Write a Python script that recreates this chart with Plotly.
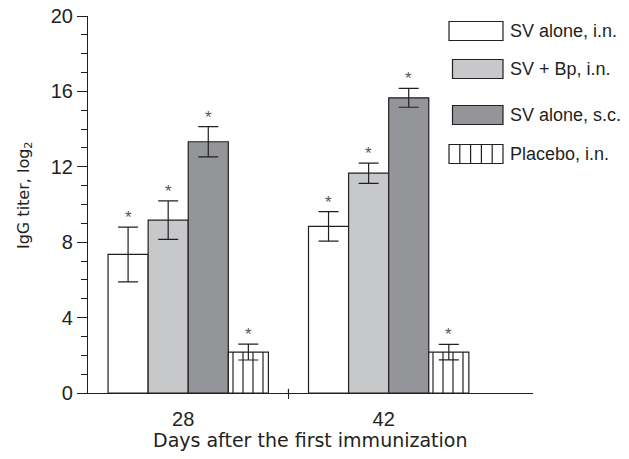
import plotly.graph_objects as go

# ---------------- data ----------------
days = ["28", "42"]
series_names = ["SV alone, i.n.", "SV + Bp, i.n.", "SV alone, s.c.", "Placebo, i.n."]
sv_alone_in = [7.35, 8.84]
sv_alone_in_err = [1.45, 0.78]
sv_bp_in = [9.17, 11.66]
sv_bp_in_err = [1.02, 0.54]
sv_alone_sc = [13.33, 15.66]
sv_alone_sc_err = [0.80, 0.50]
placebo_in = [2.17, 2.17]
placebo_in_err = [0.42, 0.41]
y_ticks = [0, 4, 8, 12, 16, 20]

values = [sv_alone_in, sv_bp_in, sv_alone_sc, placebo_in]
errors = [sv_alone_in_err, sv_bp_in_err, sv_alone_sc_err, placebo_in_err]

# ---------------- styles ----------------
INK = "#231f20"
fills = ["#ffffff", "#c7c8ca", "#939598", "#ffffff"]
patterns = [None, None, None, dict(shape="|", size=10, solidity=0.12,
                                   fgcolor=INK, bgcolor="#ffffff", fillmode="replace")]

W, H = 629, 459
PLOT_L, PLOT_R, PLOT_T, PLOT_B = 88, 533, 16, 393   # plot area in pixels
ML, MT = PLOT_L, PLOT_T
MR, MB = W - PLOT_R, H - PLOT_B
PW, PH = PLOT_R - PLOT_L, PLOT_B - PLOT_T

xpos = list(range(len(days)))
BARGAP = 0.2
n = len(series_names)
bw = (1 - BARGAP) / n

fig = go.Figure()
for j, (name, vals, errs) in enumerate(zip(series_names, values, errors)):
    marker = dict(color=fills[j], line=dict(color=INK, width=1.2))
    if patterns[j]:
        marker["pattern"] = patterns[j]
    fig.add_trace(go.Bar(
        name=name, x=xpos, y=vals, marker=marker, showlegend=False,
        error_y=dict(type="data", array=errs, visible=True,
                     color=INK, thickness=1.2, width=10),
    ))

# asterisks above error bars
for j, (vals, errs) in enumerate(zip(values, errors)):
    for i, (v, e) in enumerate(zip(vals, errs)):
        fig.add_annotation(x=xpos[i] + (j - (n - 1) / 2) * bw, y=v + e,
                           xref="x", yref="y", text="*", showarrow=False,
                           yanchor="bottom", yshift=-2,
                           font=dict(family="Liberation Sans", size=17, color="#555555"))

# custom legend (positions given in pixels)
def px_x(p):
    return (p - PLOT_L) / PW

def px_y(p):
    return (PLOT_B - p) / PH

leg_centers = [31, 69, 115, 154]
box_left = [449, 452.5, 452.5, 449]
box_right = 503
box_h = 19
for j, name in enumerate(series_names):
    cy = leg_centers[j]
    fig.add_shape(type="rect", xref="paper", yref="paper",
                  x0=px_x(box_left[j]), x1=px_x(box_right),
                  y0=px_y(cy + box_h / 2), y1=px_y(cy - box_h / 2),
                  fillcolor=fills[j], line=dict(color=INK, width=1.2))
    if patterns[j]:
        step = (box_right - box_left[j]) / 5
        for k in range(1, 5):
            xx = box_left[j] + k * step
            fig.add_shape(type="line", xref="paper", yref="paper",
                          x0=px_x(xx), x1=px_x(xx),
                          y0=px_y(cy + box_h / 2), y1=px_y(cy - box_h / 2),
                          line=dict(color=INK, width=1.2))
    fig.add_annotation(xref="paper", yref="paper", x=px_x(508), y=px_y(cy),
                       xanchor="left", yanchor="middle", text=name, showarrow=False,
                       font=dict(family="Liberation Sans", size=18, color=INK))

# small tick between groups crossing the x axis (upper part)
fig.add_shape(type="line", xref="x", yref="y", x0=0.5, x1=0.5, y0=0, y1=0.22,
              line=dict(color=INK, width=1.2))

# y-axis title as annotation
fig.add_annotation(xref="paper", yref="paper", x=px_x(24), y=px_y(196),
                   xanchor="center", yanchor="middle", textangle=-90,
                   text="IgG titer, log<sub>2</sub>", showarrow=False,
                   font=dict(family="DejaVu Sans", size=16, color=INK))

# x-axis title as annotation
fig.add_annotation(xref="paper", yref="paper", x=0.5, y=px_y(440),
                   xanchor="center", yanchor="middle",
                   text="Days after the first immunization", showarrow=False,
                   font=dict(family="DejaVu Sans", size=19, color=INK))

fig.update_layout(
    width=W, height=H,
    margin=dict(l=ML, r=MR, t=MT, b=MB, pad=0, autoexpand=False),
    paper_bgcolor="white", plot_bgcolor="white",
    barmode="group", bargap=BARGAP, bargroupgap=0,
    font=dict(family="Liberation Sans", color=INK),
    xaxis=dict(
        automargin=False,
        range=[-0.5, 1.72], tickvals=xpos, ticktext=days, ticks="",
        showline=True, linecolor=INK, linewidth=1.2, showgrid=False, zeroline=False,
        tickfont=dict(family="Liberation Sans", size=20, color=INK),
        ticklabelshift=-5, ticklabelstandoff=8,
        minor=dict(tickvals=[0.5], ticks="outside", ticklen=5, tickcolor=INK, tickwidth=1.2,
                   showgrid=False),
    ),
    yaxis=dict(
        automargin=False, ticklabeloverflow="allow",
        range=[0, 20], tickvals=y_ticks, ticks="outside", ticklen=10, tickwidth=1.2,
        tickcolor=INK, showline=True, linecolor=INK, linewidth=1.2,
        showgrid=False, zeroline=False,
        tickfont=dict(family="Liberation Sans", size=20, color=INK),
        minor=dict(dtick=1, ticks="outside", ticklen=6, tickcolor=INK, tickwidth=1.2,
                   showgrid=False),
    ),
)

fig.write_html("out.html", config={"displayModeBar": False},
               post_script="document.body.style.margin='0';document.body.style.overflow='hidden';")
